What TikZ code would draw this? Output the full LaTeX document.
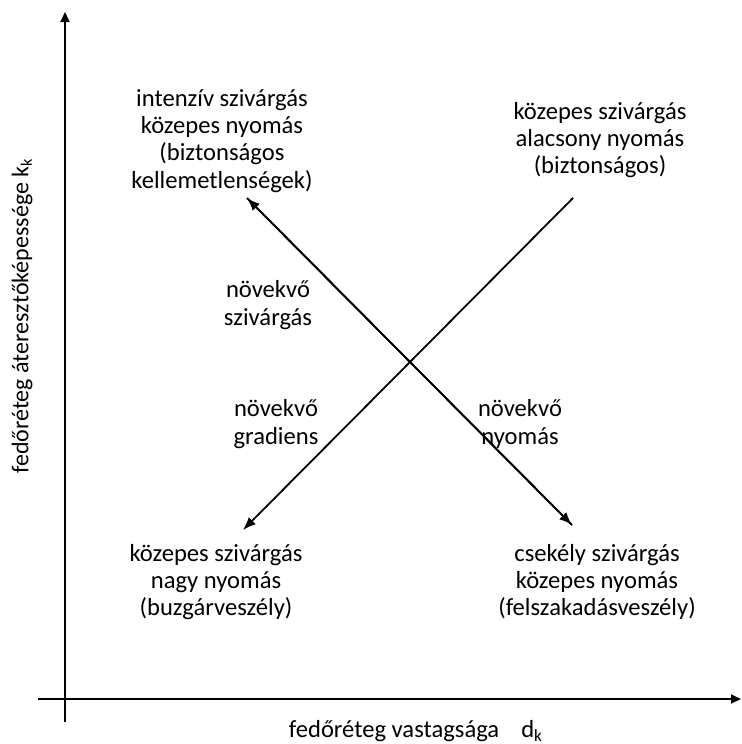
\documentclass[tikz,border=0pt]{standalone}
\usepackage{fontspec}
\setmainfont{Carlito}
\usetikzlibrary{arrows.meta}

\tikzset{
    lbl/.style={align=center, inner sep=0pt, font=\fontsize{12.3}{13.6}\selectfont},
    axis/.style={line width=0.9pt, -{Triangle[length=5pt, width=4.5pt]}},
    trend/.style={line width=0.9pt, -{Latex[length=6.5pt, width=5pt]}}
}

\begin{document}
\begin{tikzpicture}[x=0.5pt, y=-0.5pt]
    \useasboundingbox (0, 0) rectangle (742, 744);

    % Axes
    \coordinate (xs) at (38, 699);
    \coordinate (xe) at (741, 699);
    \coordinate (ys) at (65, 722);
    \coordinate (ye) at (65, 12);
    \draw[axis] (xs) -- (xe);
    \draw[axis] (ys) -- (ye);

    \node[lbl] (xlab) at (416, 731) {fedőréteg vastagsága\hspace{0.9em}d\textsubscript{k}};
    \node[lbl, rotate=90, font=\fontsize{12}{13.6}\selectfont] (ylab) at (22, 316) {fedőréteg áteresztőképessége k\textsubscript{k}};

    % Corners
    \node[lbl] (nw) at (222, 141) {intenzív szivárgás\\közepes nyomás\\(biztonságos\\kellemetlenségek)};
    \node[lbl] (ne) at (600, 140) {közepes szivárgás\\alacsony nyomás\\(biztonságos)};
    \node[lbl] (sw) at (216, 582) {közepes szivárgás\\nagy nyomás\\(buzgárveszély)};
    \node[lbl] (se) at (597, 582) {csekély szivárgás\\közepes nyomás\\(felszakadásveszély)};

    % Trends
    \coordinate (a1) at (247, 198);
    \coordinate (a2) at (572, 525);
    \coordinate (b1) at (573, 198);
    \coordinate (b2) at (243, 530);
    \draw[trend] (a2) -- (a1);
    \draw[trend] (a1) -- (a2);
    \draw[trend] (b1) -- (b2);

    \node[lbl] (leak) at (268, 305) {növekvő\\szivárgás};
    \node[lbl] (grad) at (276, 424) {növekvő\\gradiens};
    \node[lbl] (pres) at (520, 424) {növekvő\\nyomás};
\end{tikzpicture}
\end{document}
